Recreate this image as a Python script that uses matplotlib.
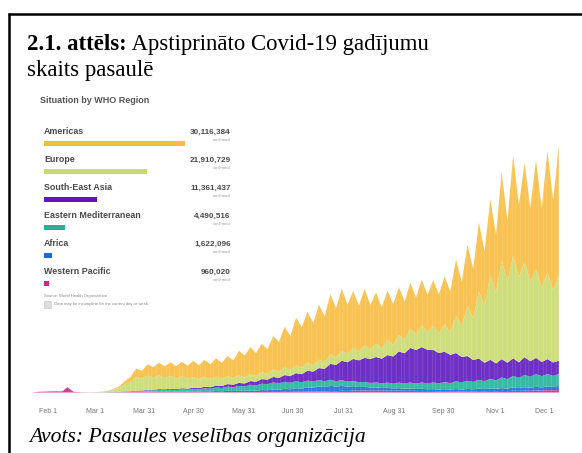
import matplotlib

matplotlib.use("Agg")
import matplotlib.pyplot as plt
from matplotlib.patches import Rectangle
import numpy as np

# WHO regions, legend order (top to bottom) and their cumulative totals
regions = ["Americas", "Europe", "South-East Asia", "Eastern Mediterranean",
           "Africa", "Western Pacific"]
totals = [30116384, 21910729, 11361437, 4490516, 1622096, 960020]
colors = ["#F9BC3F", "#C8DA6E", "#5E17BE", "#20B39A", "#1769DA", "#C9268E"]

# new cases per day (thousands), sampled twice a week from 23 Jan 2020
days = 22 + 3.5 * np.arange(93)  # day of year, 0 = 1 Jan
wpr = [0.6, 2, 2.5, 3, 3.5, 3, 15, 2.2, 1, 0.6, 0.5, 0.6, 0.5, 0.6, 0.8, 1,
       1.2, 1.2, 1.6, 1.5, 2, 2, 2.5, 2.2, 2.5, 2, 2, 1.6, 1.5, 1.2, 1.2, 1,
       1.2, 1, 1.2, 1, 1.2, 1, 1.3, 1.2, 1.5, 1.3, 1.6, 1.4, 1.8, 1.6, 2.2, 2,
       2.8, 2.5, 3.2, 3, 4, 3.6, 4.8, 4.2, 5.5, 5, 6, 5.5, 6, 5.2, 5.5, 5,
       5.2, 4.6, 4.8, 4.3, 4.5, 4, 4.2, 3.8, 4, 3.6, 3.8, 3.4, 3.8, 3.4, 4,
       3.6, 4.2, 3.8, 4.5, 4, 5, 4.5, 5.5, 5, 6, 5.4, 6.5, 6, 7]
afr = [0] * 15 + [0.1, 0.2, 0.3, 0.5, 0.5, 0.8, 0.7, 1, 0.9, 1.2, 1, 1.5,
       1.3, 2, 1.8, 2.5, 2.2, 3, 2.6, 3.5, 3, 4, 3.5, 4.5, 4, 5.5, 5, 7, 6,
       8.5, 7.5, 10, 9, 12, 11, 14, 12.5, 15, 13, 14, 12, 12.5, 10.5, 10, 8.5,
       8.5, 7.5, 7.5, 6.5, 7, 6, 6.5, 5.5, 6, 5, 5.5, 4.8, 5.5, 4.8, 6, 5,
       6.5, 5.5, 7, 6, 7.5, 6.5, 8, 7, 9, 8, 9.5, 8.5, 10, 9, 11, 10, 12]
emr = [0] * 12 + [0.3, 0.6, 1, 1.2, 1.5, 1.6, 2.5, 2.5, 3.5, 3.3, 4, 3.8,
       4.5, 4.2, 5.5, 5, 6.5, 6, 8, 7.5, 10, 9, 12, 11, 13.5, 12.5, 16, 15,
       18, 17, 20, 18.5, 20, 18.5, 19.5, 18, 19, 17.5, 18, 16.5, 17, 15.5,
       16, 14.5, 15, 13.5, 14, 13, 14, 13, 15, 13.5, 16, 14.5, 17, 15.5, 18,
       16, 19, 17, 20, 18, 22, 20, 23, 21, 25, 22.5, 27, 24, 30, 27, 33, 29,
       35, 31, 36, 32, 35, 31, 33]
sea = [0] * 14 + [0.1, 0.2, 0.3, 0.5, 0.8, 1, 1.5, 1.5, 2, 2, 2.5, 2.3, 3,
       2.8, 3.5, 3.5, 4.5, 4.3, 5.5, 5.5, 7, 7, 8.5, 8.5, 10.5, 10.5, 13, 13,
       15.5, 15.5, 19, 19, 23, 23, 28, 28, 34, 35, 45, 46, 55, 55, 62, 62, 68,
       68, 72, 70, 78, 77, 88, 86, 98, 95, 100, 96, 92, 86, 86, 80, 80, 72,
       70, 62, 60, 52, 54, 48, 52, 46, 50, 44, 50, 44, 46, 40, 42, 38, 38]
eur = [0] * 9 + [0.1, 0.3, 0.5, 1.5, 3, 6, 10, 20, 26, 38, 34, 40, 34, 40,
       32, 37, 30, 34, 28, 30, 25, 28, 23, 25, 21, 22, 18, 21, 17, 20, 16, 20,
       16, 21, 17, 22, 18, 22, 18, 22, 18, 24, 19, 27, 21, 29, 23, 32, 25, 35,
       28, 38, 30, 42, 33, 47, 37, 55, 44, 62, 50, 68, 56, 78, 64, 105, 88,
       140, 118, 190, 160, 240, 200, 280, 230, 290, 240, 270, 225, 250, 210,
       245, 205, 240]
amr = [0] * 11 + [0.1, 0.3, 0.8, 2, 4, 9, 14, 24, 22, 32, 30, 35, 33, 38, 35,
       41, 37, 46, 40, 48, 42, 52, 45, 58, 51, 70, 62, 76, 65, 80, 70, 95, 85,
       115, 95, 135, 115, 145, 120, 155, 130, 170, 140, 175, 140, 160, 130,
       160, 125, 145, 115, 140, 115, 135, 110, 130, 105, 130, 105, 130, 110,
       135, 115, 160, 125, 175, 140, 195, 155, 215, 165, 250, 170, 285, 205,
       280, 210, 310, 225, 345, 255, 370]

tick_days = [31, 60, 90, 120, 151, 181, 212, 243, 273, 305, 335]
tick_labels = ["Feb 1", "Mar 1", "Mar 31", "Apr 30", "May 31", "Jun 30",
               "Jul 31", "Aug 31", "Sep 30", "Nov 1", "Dec 1"]

W, H = 582, 453
fig = plt.figure(figsize=(W / 100, H / 100), dpi=100)
fig.patch.set_facecolor("white")

# chart area (pixel box 30..568 x 140..392.5)
ax = fig.add_axes([30 / W, (H - 392.5) / H, 538 / W, 252.5 / H])
ax.stackplot(days, wpr, afr, emr, sea, eur, amr,
             colors=colors[::-1], linewidth=0)
# thin gaps between the daily bars of the original dashboard
ax.vlines(np.arange(22, 346), 0, 715, color="white", lw=0.35, alpha=0.45)
ax.set_xlim(19.97, 349.6)
ax.set_ylim(0, 715)
ax.set_xticks(tick_days)
ax.set_xticklabels(tick_labels, fontsize=5, color="#777777",
                   family="Liberation Sans")
ax.tick_params(axis="x", length=0, pad=11)
ax.set_yticks([])
for side in ax.spines.values():
    side.set_visible(False)
ax.patch.set_alpha(0)

# overlay in pixel coordinates for frame, caption and legend panel
ov = fig.add_axes([0, 0, 1, 1])
ov.set_xlim(0, W)
ov.set_ylim(H, 0)
ov.axis("off")

ov.plot([9, 9], [13, H], color="black", lw=1.8, solid_capstyle="butt")
ov.plot([8, W], [13.5, 13.5], color="black", lw=1.8, solid_capstyle="butt")

serif = "Liberation Serif"
title_size = 16.4
bold_part = ov.text(27, 50, "2.1. attēls:", family=serif, fontsize=title_size,
                    fontweight="bold", va="baseline")
fig.canvas.draw()
bb = bold_part.get_window_extent()
ov.text(bb.x1, 50, " Apstiprināto Covid-19 gadījumu", family=serif,
        fontsize=title_size, va="baseline")
ov.text(27, 76, "skaits pasaulē", family=serif, fontsize=title_size,
        va="baseline")
ov.text(29, 442, "Avots: Pasaules veselības organizācija", family=serif,
        fontsize=15.6, style="italic", va="baseline")

sans = "Liberation Sans"
ov.text(40, 100.5, "Situation by WHO Region", family=sans, fontsize=6.5,
        fontweight="bold", color="#555555", va="center")

bar_full = 141.4
for i, (name, total, col) in enumerate(zip(regions, totals, colors)):
    y0 = 131 + 28 * i
    ov.text(44, y0, name, family=sans, fontsize=6.4, fontweight="bold",
            color="#4a4a4a", va="center")
    ov.add_patch(Rectangle((44, y0 + 9.5), bar_full * total / totals[0], 5,
                           color=col, lw=0))
    ov.text(230.7, y0 + 1.7, f"{total:,}", family=sans, fontsize=5.9,
            fontweight="bold", color="#4a4a4a", ha="right", va="center")
    ov.text(230.7, y0 + 9, "confirmed", family=sans, fontsize=3,
            color="#999999", ha="right", va="center")

ov.text(44, 296, "Source: World Health Organization", family=sans,
        fontsize=3, color="#888888", va="center")
ov.add_patch(Rectangle((44, 301), 7, 7, facecolor="#dddddd",
                       edgecolor="#cccccc", lw=0.5))
ov.text(53.5, 304.5, "Data may be incomplete for the current day or week.",
        family=sans, fontsize=3, color="#888888", va="center")

fig.savefig("out.png", dpi=100)
